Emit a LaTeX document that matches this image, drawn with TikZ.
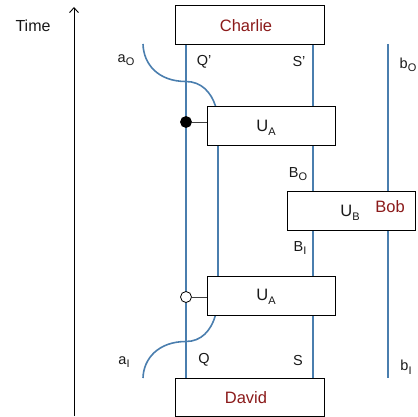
\documentclass[tikz,border=0pt]{standalone}
\usepackage{fontspec}
\usetikzlibrary{arrows.meta}
\setmainfont{Liberation Sans}
\definecolor{wire}{HTML}{4A7EAE}
\definecolor{namecol}{HTML}{8B1A1A}
\tikzset{x=1pt,y=-1pt,
  box/.style={draw=black,line width=1pt,fill=white,inner sep=0pt,minimum width=#1,minimum height=39pt},
  box/.default=128pt,
  wirel/.style={draw=wire,line width=1.6pt},
  lab/.style={inner sep=0pt,font=\fontsize{14.5}{16}\selectfont,text=black!90},
  gate/.style={inner sep=0pt,font=\fontsize{16.5}{18}\selectfont,text=black!90},
  who/.style={inner sep=0pt,font=\fontsize{16.5}{18}\selectfont,text=namecol},
  ctrl/.style={circle,draw=black,line width=0.8pt,inner sep=0pt,minimum size=11pt},
  tick/.style={draw=black!75,line width=0.9pt}}
\newcommand{\ssub}[1]{\raisebox{-3.5pt}{\fontsize{11}{11}\selectfont #1}}
\begin{document}
\begin{tikzpicture}
\useasboundingbox (0,0) rectangle (417,417);
\coordinate (tb) at (74,416);
\coordinate (tt) at (74,7);
\draw[-{Straight Barb[length=5pt,width=9pt]},line width=0.9pt] (tb) -- (tt);
\node[inner sep=0pt,font=\fontsize{16}{18}\selectfont,text=black!90] (time) at (33,26) {Time};
\coordinate (ql) at (186,44); \coordinate (qb) at (186,378);
\coordinate (st) at (313,44); \coordinate (sb) at (313,378);
\coordinate (rt) at (388,44); \coordinate (rb) at (388,378);
\coordinate (at) at (143,44); \coordinate (am) at (186,81.5); \coordinate (ae) at (215.5,106);
\coordinate (it) at (143,378); \coordinate (im) at (186,341.5); \coordinate (ie) at (215.5,315);
\coordinate (mt) at (218,145); \coordinate (mb) at (218,276);
\draw[wirel] (ql) -- (qb);
\draw[wirel] (st) -- (sb);
\draw[wirel] (rt) -- (rb);
\draw[wirel] (mt) -- (mb);
\draw[wirel] (at) .. controls (143.5,64) and (158,81.5) .. (am) .. controls (201,81.5) and (211,92) .. (ae);
\draw[wirel] (it) .. controls (143.5,359) and (158,341.5) .. (im) .. controls (201,341.5) and (211,331) .. (ie);
\node[box=149pt,anchor=north west] (charlie) at (175,5) {};
\node[who] (cname) at (246,26) {Charlie};
\node[box=149pt,anchor=north west,minimum height=37.5pt] (david) at (175,378) {};
\node[who] (dname) at (246,398) {David};
\node[box,anchor=north west] (ua1) at (207,106) {};
\node[box,anchor=north west] (ua2) at (207,276) {};
\node[box,anchor=north west] (ub) at (287,191) {};
\node[gate] (ua1t) at (266,128) {U\ssub{A}};
\node[gate] (ua2t) at (266,297) {U\ssub{A}};
\node[gate] (ubt) at (350,213) {U\ssub{B}};
\node[who] (bob) at (390,207) {Bob};
\node[ctrl,fill=black] (c1) at (186,122) {};
\node[ctrl,fill=white] (c2) at (186,297) {};
\draw[tick] (c1) -- (c1 -| ua1.west);
\draw[tick] (c2) -- (c2 -| ua2.west);
\node[lab] at (126,60) {a\ssub{O}};
\node[lab] at (124,362) {a\ssub{I}};
\node[lab] at (204,62) {Q'};
\node[lab] at (299,62) {S'};
\node[lab] at (204,360) {Q};
\node[lab] at (298,361) {S};
\node[lab] at (298,174) {B\ssub{O}};
\node[lab] at (300,248) {B\ssub{I}};
\node[lab] at (408,65) {b\ssub{O}};
\node[lab] at (406,367) {b\ssub{I}};
\end{tikzpicture}
\end{document}
